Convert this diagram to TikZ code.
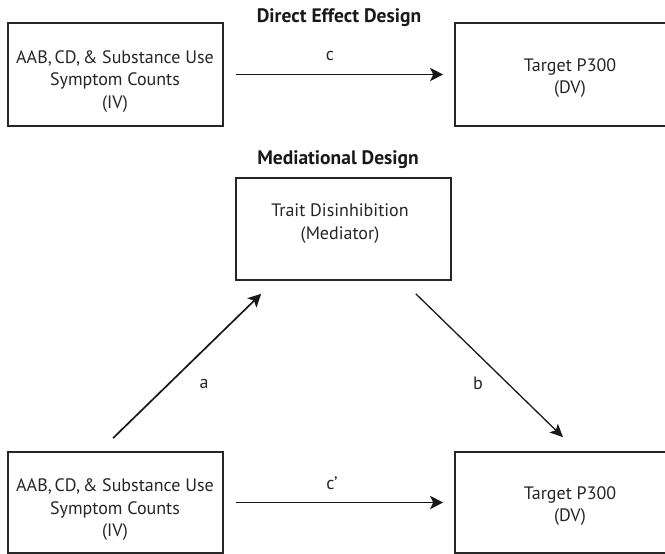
\documentclass[tikz,border=0pt]{standalone}
\usepackage{fontspec}
\setmainfont{PT Sans}
\usetikzlibrary{arrows.meta,calc}
\begin{document}
\begin{tikzpicture}[x=1pt,y=-1pt,
  box/.style={draw=black!85, line width=1.6pt, inner sep=0pt},
  txt/.style={align=center, inner sep=0pt, font=\fontsize{18}{22.5}\selectfont, text=black!85},
  ttl/.style={inner sep=0pt, font=\fontsize{19.5}{21}\selectfont\bfseries, text=black!90},
  lbl/.style={inner sep=0pt, font=\fontsize{18}{21}\selectfont, text=black!85},
  arr/.style={draw=black!90, line width=1.7pt, -{Stealth[length=13pt,width=13pt,inset=3pt]}},
  arrthin/.style={draw=black!90, line width=1.3pt, -{Stealth[length=13pt,width=12pt,inset=3pt]}}
]
\useasboundingbox (0,0) rectangle (665,554);
\fill[white] (0,0) rectangle (665,554);

% top row
\node[ttl] (t1) at (339,18) {Direct Effect Design};
\node[box, minimum width=215pt, minimum height=103pt] (TL) at (115.5,74.5) {};
\node[txt] (TLt) at (115,81.5) {AAB,\hspace{0.15em}CD,\hspace{0.15em}\& Substance Use\\Symptom Counts\\(IV)};
\node[box, minimum width=213pt, minimum height=103pt] (TR) at (561.5,74.5) {};
\node[txt] (TRt) at (570,78) {Target P300\\(DV)};
\draw[arr] ($(TL.east)+(12,0)$) -- ($(TR.west)+(-11,0)$);
\node[lbl] (lc) at (330,56) {c};

% mediational design
\node[ttl] (t2) at (338,160) {Mediational Design};
\node[box, minimum width=215pt, minimum height=102pt] (M) at (343.5,229) {};
\node[txt] (Mt) at (340,223.5) {Trait Disinhibition\\(Mediator)};

\node[box, minimum width=215pt, minimum height=101pt] (BL) at (115.5,502.5) {};
\node[txt] (BLt) at (115,510) {AAB,\hspace{0.15em}CD,\hspace{0.15em}\& Substance Use\\Symptom Counts\\(IV)};
\node[box, minimum width=213pt, minimum height=101pt] (BR) at (561.5,502.5) {};
\node[txt] (BRt) at (570,506) {Target P300\\(DV)};

\draw[arr] ($(BL.north)+(-2.5,-13)$) -- ($(M.south west)+(26,13)$);
\node[lbl] (la) at (204,384) {a};
\draw[arrthin] ($(M.south east)+(-36,13)$) -- ($(BR.north)+(1.5,-14)$);
\node[lbl] (lb) at (478,383) {b};
\draw[arr] ($(BL.east)+(12,0)$) -- ($(BR.west)+(-11,0)$);
\node[lbl] (lcp) at (332,483) {c’};
\end{tikzpicture}
\end{document}
